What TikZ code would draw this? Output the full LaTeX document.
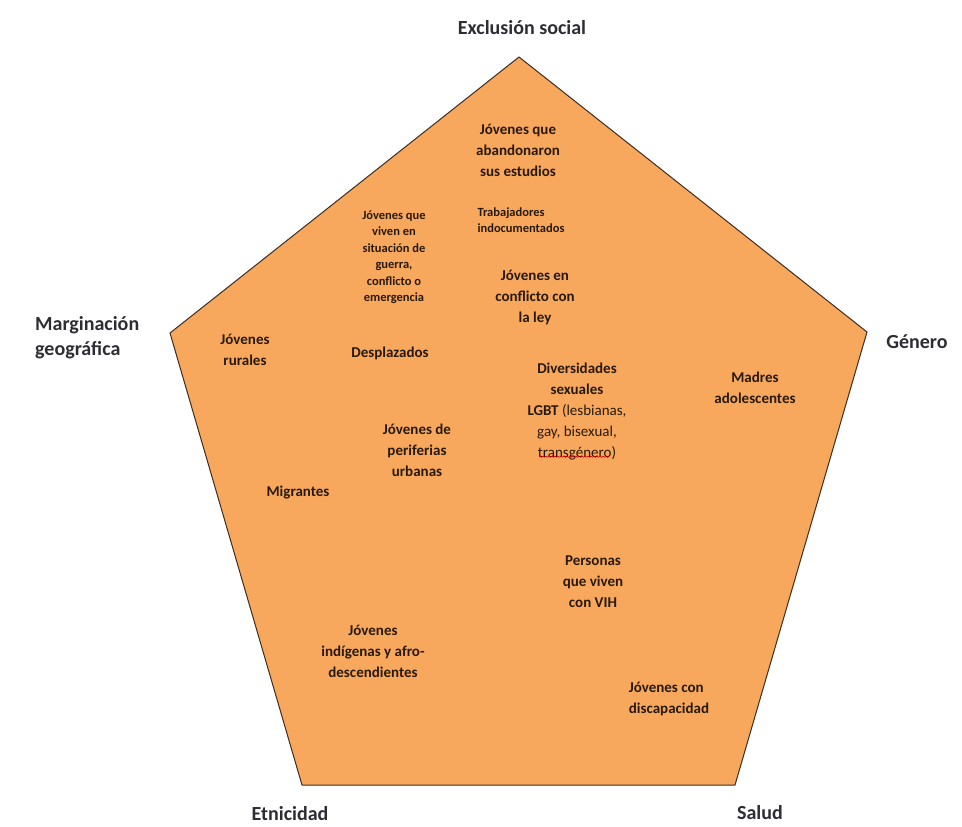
\documentclass[tikz,border=0pt]{standalone}
\usepackage{fontspec}
\setmainfont{Carlito}
\usetikzlibrary{decorations.pathmorphing}
\definecolor{penta}{RGB}{248,168,92}
\definecolor{edgec}{RGB}{60,45,35}
\definecolor{labc}{RGB}{45,45,52}
\definecolor{ink}{RGB}{40,25,10}
\begin{document}
\begin{tikzpicture}[x=1pt,y=-1pt,
 lab/.style={font=\fontsize{20}{25}\selectfont\bfseries, text=labc, inner sep=0},
 big/.style={font=\fontsize{15}{21}\selectfont\bfseries, text=ink, align=center, inner sep=0},
 small/.style={font=\fontsize{12.5}{16.5}\selectfont\bfseries, text=ink, align=center, inner sep=0}]
\useasboundingbox (0,0) rectangle (962,827);
\fill[white] (0,0) rectangle (962,827);
\coordinate (T) at (519,57);
\coordinate (R) at (867,332);
\coordinate (BR) at (735,785);
\coordinate (BL) at (302,785);
\coordinate (L) at (170,333);
\filldraw[fill=penta, draw=edgec, line width=1pt, line join=miter] (T) -- (R) -- (BR) -- (BL) -- (L) -- cycle;
% axis labels
\node[lab] (exc) at (522,28) {Exclusión social};
\node[lab, align=left, anchor=west] (mar) at (35,338) {Marginación\\geográfica};
\node[lab] (gen) at (917,342) {Género};
\node[lab] (etn) at (290,814) {Etnicidad};
\node[lab] (sal) at (760,813) {Salud};
% inner texts
\node[big] (aban) at (518,150) {Jóvenes que\\abandonaron\\sus estudios};
\node[small, align=left] (trab) at (521,220) {Trabajadores\\indocumentados};
\node[small] (guer) at (394,257) {Jóvenes que\\viven en\\situación de\\guerra,\\conflicto o\\emergencia};
\node[big] (ley) at (535,297) {Jóvenes en\\conflicto con\\la ley};
\node[big] (rur) at (245,350) {Jóvenes\\rurales};
\node[big] (desp) at (390,353) {Desplazados};
\node[big] (peri) at (417,450) {Jóvenes de\\periferias\\urbanas};
\node[big] (migr) at (298,493) {Migrantes};
\node[big] (lgbt) at (577,412) {Diversidades\\sexuales\\LGBT \mdseries(lesbianas,\\\mdseries gay, bisexual,\\\mdseries transgénero)};
\node[big] (madr) at (755,388) {Madres\\adolescentes};
\node[big] (vih) at (593,582) {Personas\\que viven\\con VIH};
\node[big] (indi) at (373,651) {Jóvenes\\indígenas y afro-\\descendientes};
\node[big, align=left] (disc) at (669,699) {Jóvenes con\\discapacidad};
\draw[red!80!black, line width=0.6pt, decorate, decoration={snake, amplitude=0.6pt, segment length=3pt}]
  ([xshift=-38pt,yshift=4pt]lgbt.south) -- ([xshift=32pt,yshift=4pt]lgbt.south);
\end{tikzpicture}
\end{document}
